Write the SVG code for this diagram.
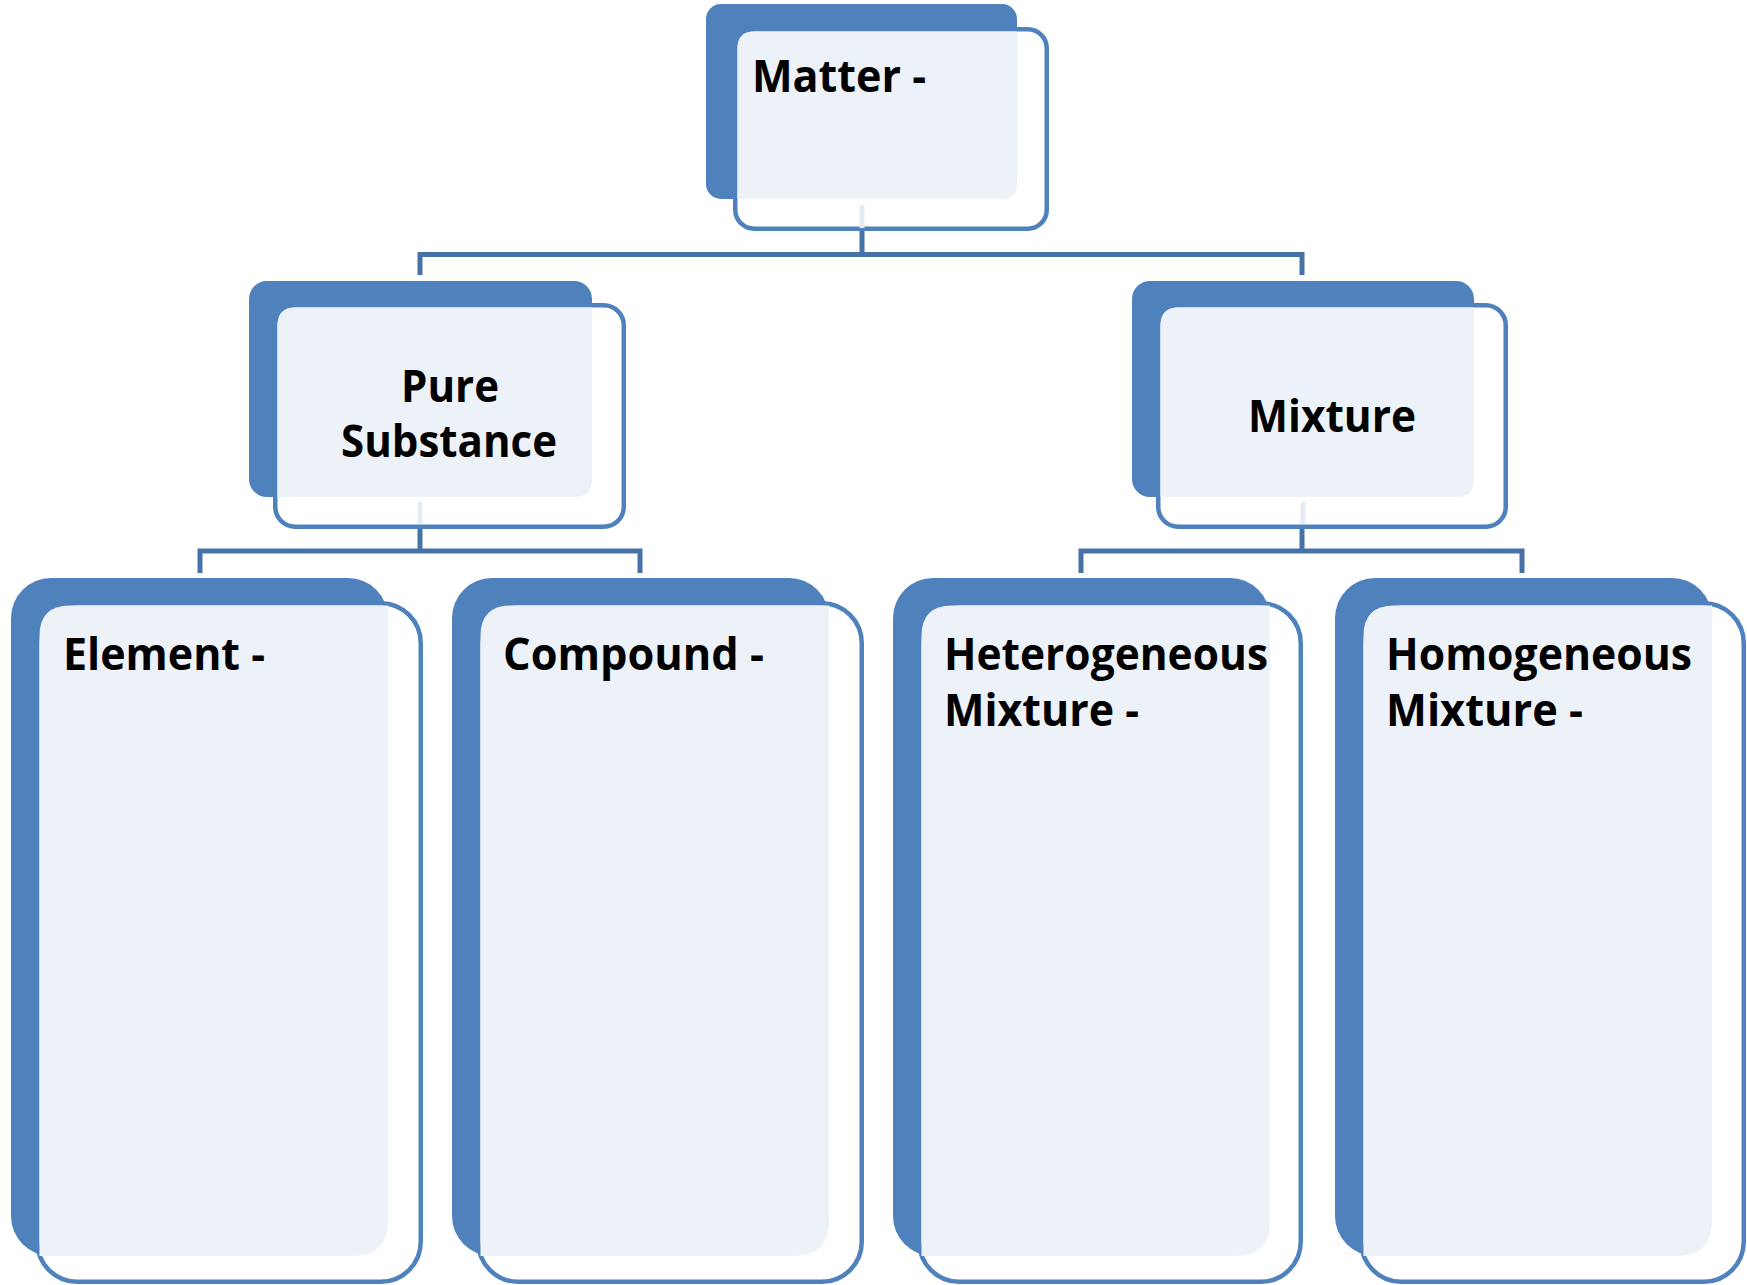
<svg xmlns="http://www.w3.org/2000/svg" width="1747" height="1285" viewBox="0 0 1747 1285">
<style>
.back{fill:#4F81BD}
.frame{fill:#FFFFFF;stroke:#4F81BD;stroke-width:4.5}
.light{fill:#EDF2F9}
.lbl{font-family:"Open Sans","Noto Sans","Liberation Sans",sans-serif;font-weight:700;font-size:44px;fill:#000000}
.conn{fill:none;stroke:#4672A8;stroke-width:5;stroke-linejoin:miter;stroke-linecap:butt}
.ghost{fill:none;stroke:#E6ECF4;stroke-width:5}
</style>
<rect width="1747" height="1285" fill="#FFFFFF"/>
<g id="connectors">
  <path class="conn" d="M420,275 V254.5 H1302 V275 M862,231 V254.5"/>
  <path class="conn" d="M200,573 V551 H640 V573 M420,527 V551"/>
  <path class="conn" d="M1081,573 V551 H1522 V573 M1302,527 V551"/>
</g>
<g id="node-matter">
  <rect class="back" x="706" y="4" width="311" height="195" rx="15"/>
  <rect class="frame" x="735.25" y="29.25" width="311.5" height="199.5" rx="19"/>
  <path class="light" d="M737.5,48 Q737.5,31.5 754,31.5 H1017 V184 Q1017,199 1002,199 H737.5 Z"/>
  <line class="ghost" x1="862" y1="205" x2="862" y2="228"/>
  <text class="lbl" x="752" y="92" textLength="174" lengthAdjust="spacingAndGlyphs">Matter -</text>
</g>
<g id="node-pure">
  <rect class="back" x="249" y="281" width="343" height="216" rx="18"/>
  <rect class="frame" x="275.25" y="305.25" width="348.5" height="221.5" rx="20"/>
  <path class="light" d="M277.5,325 Q277.5,307.5 295,307.5 H592 V479 Q592,497 574,497 H277.5 Z"/>
  <line class="ghost" x1="420" y1="502" x2="420" y2="524"/>
  <text class="lbl" x="450" y="402" text-anchor="middle" textLength="98" lengthAdjust="spacingAndGlyphs">Pure</text>
  <text class="lbl" x="449" y="457" text-anchor="middle" textLength="216" lengthAdjust="spacingAndGlyphs">Substance</text>
</g>
<g id="node-mixture">
  <rect class="back" x="1132" y="281" width="342" height="216" rx="18"/>
  <rect class="frame" x="1158.25" y="305.25" width="347.5" height="221.5" rx="20"/>
  <path class="light" d="M1160.5,325 Q1160.5,307.5 1178,307.5 H1474 V479 Q1474,497 1456,497 H1160.5 Z"/>
  <line class="ghost" x1="1303" y1="502" x2="1303" y2="524"/>
  <text class="lbl" x="1332" y="432" text-anchor="middle" textLength="168" lengthAdjust="spacingAndGlyphs">Mixture</text>
</g>
<g id="node-element">
  <rect class="back" x="11" y="578" width="377" height="678" rx="40"/>
  <rect class="frame" x="37.25" y="603.25" width="383.5" height="678.5" rx="40"/>
  <path class="light" d="M39.5,636 Q39.5,605.5 70,605.5 H388 V1221 Q388,1256 353,1256 H39.5 Z"/>
  <text class="lbl" x="63" y="670" textLength="202" lengthAdjust="spacingAndGlyphs">Element -</text>
</g>
<g id="node-compound">
  <rect class="back" x="452" y="578" width="377" height="678" rx="40"/>
  <rect class="frame" x="478.25" y="603.25" width="383.5" height="678.5" rx="40"/>
  <path class="light" d="M480.5,636 Q480.5,605.5 511,605.5 H829 V1221 Q829,1256 794,1256 H480.5 Z"/>
  <text class="lbl" x="503" y="670" textLength="261" lengthAdjust="spacingAndGlyphs">Compound -</text>
</g>
<g id="node-heterogeneous">
  <rect class="back" x="893" y="578" width="377" height="678" rx="40"/>
  <rect class="frame" x="919.25" y="603.25" width="381.5" height="678.5" rx="40"/>
  <path class="light" d="M921.5,636 Q921.5,605.5 952,605.5 H1270 V1221 Q1270,1256 1235,1256 H921.5 Z"/>
  <text class="lbl" x="944" y="670" textLength="324" lengthAdjust="spacingAndGlyphs">Heterogeneous</text>
  <text class="lbl" x="944" y="726" textLength="195" lengthAdjust="spacingAndGlyphs">Mixture -</text>
</g>
<g id="node-homogeneous">
  <rect class="back" x="1335" y="578" width="377" height="678" rx="40"/>
  <rect class="frame" x="1361.25" y="603.25" width="382.5" height="678.5" rx="40"/>
  <path class="light" d="M1363.5,636 Q1363.5,605.5 1394,605.5 H1712 V1221 Q1712,1256 1677,1256 H1363.5 Z"/>
  <text class="lbl" x="1386" y="670" textLength="306" lengthAdjust="spacingAndGlyphs">Homogeneous</text>
  <text class="lbl" x="1386" y="726" textLength="197" lengthAdjust="spacingAndGlyphs">Mixture -</text>
</g>
</svg>
